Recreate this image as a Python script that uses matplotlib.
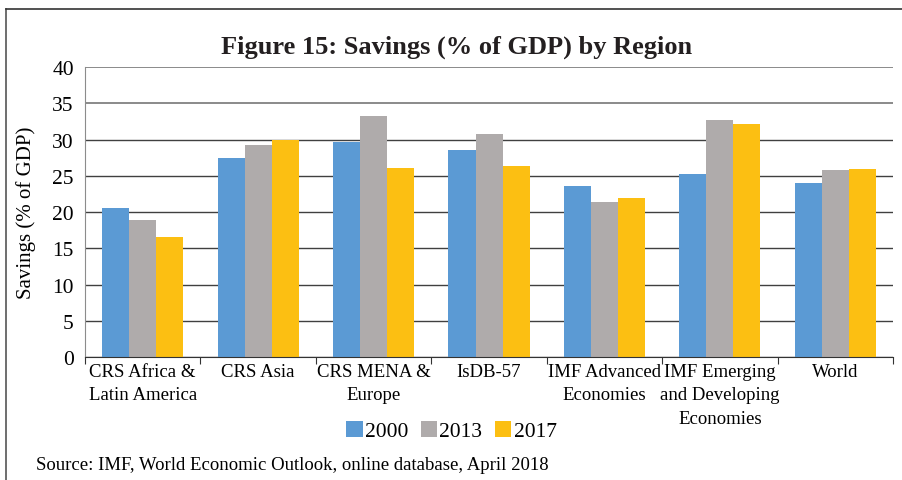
import numpy as np
import matplotlib
matplotlib.use("Agg")
import matplotlib.pyplot as plt
from matplotlib.lines import Line2D

# Data
regions = [
    "CRS Africa &\nLatin America",
    "CRS Asia",
    "CRS MENA &\nEurope",
    "IsDB-57",
    "IMF Advanced\nEconomies",
    "IMF Emerging\nand Developing\nEconomies",
    "World",
]
years = ["2000", "2013", "2017"]
savings_2000 = [20.6, 27.4, 29.7, 28.6, 23.6, 25.3, 24.0]
savings_2013 = [18.9, 29.3, 33.3, 30.8, 21.4, 32.7, 25.8]
savings_2017 = [16.6, 30.0, 26.1, 26.3, 22.0, 32.2, 26.0]
yticks = [0, 5, 10, 15, 20, 25, 30, 35, 40]

colors = ["#5B9AD4", "#AFABAB", "#FCBF12"]
serif = "Liberation Serif"

fig = plt.figure(figsize=(9.03, 4.81), dpi=100)
ax = fig.add_axes([0.0941, 0.2557, 0.8949, 0.6029])

x = np.arange(len(regions))
width = 0.234
series = [savings_2000, savings_2013, savings_2017]
for i, (vals, yr) in enumerate(zip(series, years)):
    ax.bar(x + (i - 1) * width, vals, width, color=colors[i], label=yr, zorder=3)

ax.set_xlim(-0.5, len(regions) - 0.5)
ax.set_ylim(0, 40)
ax.set_yticks(yticks)
ax.set_yticklabels([str(t) for t in yticks], fontfamily=serif, fontsize=15.5)
ax.yaxis.grid(True, color="#404040", linewidth=1.0, zorder=0)
ax.tick_params(axis="y", length=0, pad=8)
# top two gridlines look lighter in the reference
for gl, t in zip(ax.get_ygridlines(), yticks):
    if t >= 35:
        gl.set_color("#8a8a8a")
        gl.set_linewidth(1.4)

# category labels between boundary ticks
ax.set_xticks(np.arange(len(regions) + 1) - 0.5)
ax.set_xticklabels([])
ax.set_xticks(x, minor=True)
ax.set_xticklabels(regions, minor=True, fontfamily=serif, fontsize=13.5,
                   va="top", linespacing=1.5)
ax.tick_params(axis="x", which="major", length=5, color="#333333", direction="out")
ax.tick_params(axis="x", which="minor", length=0, pad=4)

for s in ["top", "right"]:
    ax.spines[s].set_visible(False)
ax.spines["left"].set_color("#8c8c8c")
ax.spines["bottom"].set_color("#333333")
ax.spines["bottom"].set_zorder(4)

ax.set_ylabel("Savings (% of GDP)", fontfamily=serif, fontsize=15, labelpad=12)

fig.text(0.506, 0.902, "Figure 15: Savings (% of GDP) by Region",
         ha="center", va="center", fontfamily=serif, fontsize=19, fontweight="bold",
         color="#231f20")

leg = fig.legend(loc="center", bbox_to_anchor=(0.5, 0.102, 0, 0), ncol=3,
                 frameon=False, prop={"family": serif, "size": 15.5},
                 handlelength=0.75, handleheight=0.75, handletextpad=0.1,
                 columnspacing=0.6)

fig.text(0.04, 0.033, "Source: IMF, World Economic Outlook, online database, April 2018",
         ha="left", va="center", fontfamily=serif, fontsize=13.5)

# frame lines around the figure panel
fig.add_artist(Line2D([0.0066, 0.0066], [0.0, 0.979], transform=fig.transFigure,
                      color="#555555", linewidth=1.2))
fig.add_artist(Line2D([0.0066, 1.0], [0.979, 0.979], transform=fig.transFigure,
                      color="#333333", linewidth=1.2))

fig.savefig("out.png", dpi=100)
